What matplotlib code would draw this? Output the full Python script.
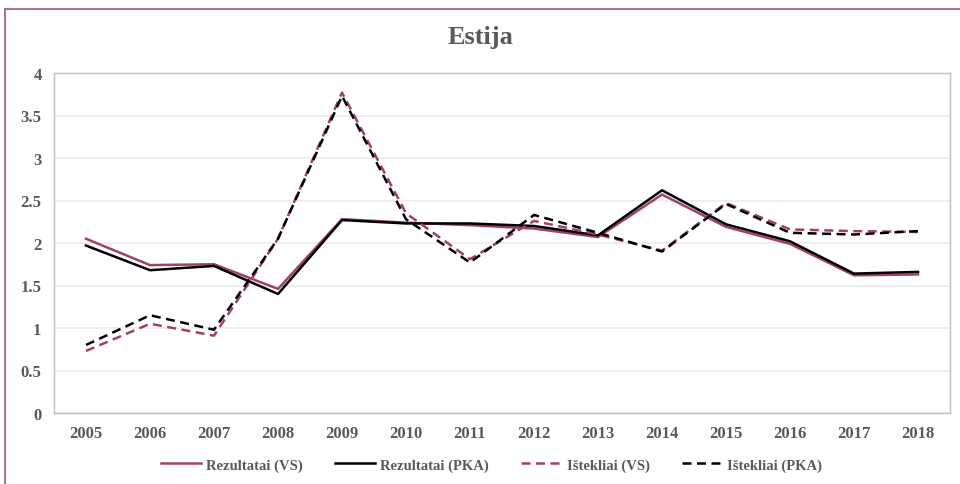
import matplotlib.pyplot as plt
from matplotlib.patches import Rectangle

# data
years = ['2005', '2006', '2007', '2008', '2009', '2010', '2011',
         '2012', '2013', '2014', '2015', '2016', '2017', '2018']
rez_vs = [2.05, 1.74, 1.75, 1.46, 2.28, 2.24, 2.21, 2.17, 2.07, 2.57, 2.19, 1.99, 1.62, 1.63]
rez_pka = [1.97, 1.68, 1.73, 1.40, 2.27, 2.23, 2.23, 2.20, 2.09, 2.62, 2.22, 2.02, 1.64, 1.66]
ist_vs = [0.73, 1.05, 0.91, 2.05, 3.77, 2.35, 1.81, 2.26, 2.10, 1.91, 2.47, 2.16, 2.14, 2.13]
ist_pka = [0.80, 1.15, 0.98, 2.05, 3.73, 2.28, 1.77, 2.33, 2.12, 1.90, 2.46, 2.12, 2.10, 2.14]
yticks = [0, 0.5, 1, 1.5, 2, 2.5, 3, 3.5, 4]
ytick_labels = ['0', '0.5', '1', '1.5', '2', '2.5', '3', '3.5', '4']

pink = '#A0406E'
txt = '#595959'
plt.rcParams['font.family'] = ['Liberation Serif', 'DejaVu Serif']

fig = plt.figure(figsize=(9.6, 4.85), dpi=100)
ax = fig.add_axes([54/960, 1-414/485, 896/960, 340/485])

x = range(len(years))
ax.plot(x, rez_vs, color=pink, lw=1.8, label='Rezultatai (VS)')
ax.plot(x, rez_pka, color='black', lw=1.8, label='Rezultatai (PKA)')
ax.plot(x, ist_vs, color=pink, lw=1.8, dashes=(3.6, 2.2), label='Ištekliai (VS)')
ax.plot(x, ist_pka, color='black', lw=1.8, dashes=(3.6, 2.2), label='Ištekliai (PKA)')

ax.set_xlim(-0.5, len(years) - 0.5)
ax.set_ylim(0, 4)
ax.set_xticks(list(x))
ax.set_xticklabels(years, fontsize=12, fontweight='bold', color=txt)
ax.set_yticks(yticks)
ax.set_yticklabels(ytick_labels, fontsize=12, fontweight='bold', color=txt)
ax.tick_params(axis='x', length=0, pad=9)
ax.tick_params(axis='y', length=0, pad=9)
ax.grid(axis='y', color='#EBEBEB', lw=1.2)
ax.set_axisbelow(True)
for s in ax.spines.values():
    s.set_color('#BFBFBF')
    s.set_linewidth(1.0)

fig.text(0.5, 1-38/485, 'Estija', ha='center', va='center',
         fontsize=19, fontweight='bold', color=txt)

leg = fig.legend(loc='center', bbox_to_anchor=(0.512, 1-466/485), ncol=4, frameon=False,
                 prop={'size': 10.5, 'weight': 'bold'}, handlelength=2.75, columnspacing=2.2,
                 handletextpad=0.35)
for t in leg.get_texts():
    t.set_color(txt)

# outer chart border
fig.patches.append(Rectangle((5/960, -0.2), 2, 1-10/485+0.2, transform=fig.transFigure,
                             fill=False, edgecolor='#B0608A', lw=1.3))

plt.savefig('out.png', dpi=100)
